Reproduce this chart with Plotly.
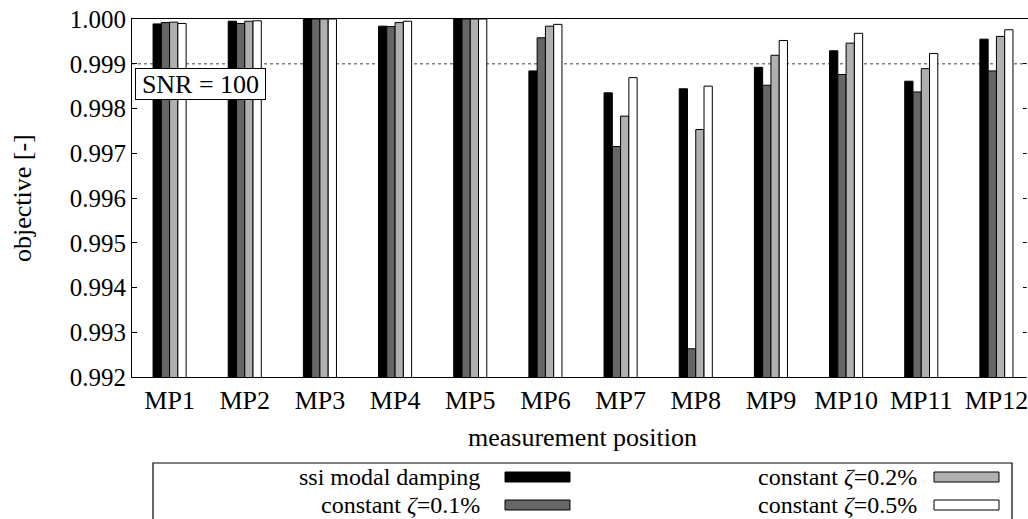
import plotly.graph_objects as go

# measurement positions and objective values per damping model
positions = [f"MP{i}" for i in range(1, 13)]
series_names = ["ssi modal damping", "constant <i>ζ</i>=0.1%",
                "constant <i>ζ</i>=0.2%", "constant <i>ζ</i>=0.5%"]
ssi_modal = [0.99989, 0.99995, 1.0, 0.99984, 1.0, 0.99884,
             0.99835, 0.99844, 0.99892, 0.99929, 0.99861, 0.99955]
zeta_01 = [0.99992, 0.99990, 1.0, 0.99983, 1.0, 0.99958,
           0.99715, 0.99263, 0.99852, 0.99876, 0.99837, 0.99884]
zeta_02 = [0.99993, 0.99995, 1.0, 0.99992, 1.0, 0.99984,
           0.99783, 0.99753, 0.99919, 0.99946, 0.99889, 0.99961]
zeta_05 = [0.99990, 0.99996, 1.0, 0.99995, 1.0, 0.99988,
           0.99869, 0.99850, 0.99952, 0.99968, 0.99923, 0.99976]
y_ticks = [0.992, 0.993, 0.994, 0.995, 0.996, 0.997, 0.998, 0.999, 1.000]
threshold = 0.999
snr_label = "SNR = 100"

series_values = [ssi_modal, zeta_01, zeta_02, zeta_05]
fills = ["#000000", "#666666", "#b0b0b0", "#ffffff"]

W, H = 1028, 519
L, R, T, B = 132, 0, 19, 142
PW, PH = W - L - R, H - T - B
FONT = "'Liberation Serif', 'Times New Roman', serif"
NUM_SIZE = 25
TXT_SIZE = 26
LEG_SIZE = 24


def px(x):
    return (x - L) / PW


def py(y):
    return (H - B - y) / PH


fig = go.Figure()
for name, vals, col in zip(series_names, series_values, fills):
    fig.add_trace(go.Bar(
        x=positions, y=vals, name=name, showlegend=False,
        marker=dict(color=col, line=dict(color="#000000", width=1)),
    ))

fig.update_layout(
    width=W, height=H, autosize=False,
    margin=dict(l=L, r=R, t=T, b=B, pad=0),
    paper_bgcolor="white", plot_bgcolor="white",
    barmode="group", bargap=0.56, bargroupgap=0,
    font=dict(family=FONT, size=TXT_SIZE, color="black"),
)
fig.update_xaxes(
    range=[-0.5, 11.42], showgrid=False, zeroline=False,
    showline=True, linecolor="black", linewidth=1.2, mirror=True,
    ticks="", tickfont=dict(family=FONT, size=TXT_SIZE, color="black"),
)
fig.update_yaxes(
    range=[0.992, 1.000], tickvals=y_ticks, tickformat=".3f",
    showgrid=False, zeroline=False,
    showline=True, linecolor="black", linewidth=1.2, mirror="ticks",
    ticks="inside", ticklen=5, tickwidth=1, tickcolor="black",
    tickfont=dict(family=FONT, size=NUM_SIZE, color="black"),
)

# dotted threshold line behind the bars
fig.add_shape(type="line", xref="paper", yref="y", x0=0, x1=1,
              y0=threshold, y1=threshold, layer="below",
              line=dict(color="#808080", width=1.5, dash="dot"))

# the frame continues past the right page edge: hide its right border
fig.add_shape(type="line", xref="paper", yref="paper", x0=1, x1=1,
              y0=-0.01, y1=0.995, layer="above",
              line=dict(color="white", width=2.5))

# SNR label box
fig.add_annotation(text=snr_label, xref="paper", yref="paper",
                   x=px(135), y=py(68), xanchor="left", yanchor="top",
                   width=127, height=28, align="center", valign="middle",
                   showarrow=False, bgcolor="white", bordercolor="black",
                   borderwidth=1, borderpad=1,
                   font=dict(family=FONT, size=TXT_SIZE, color="black"))

# axis titles
fig.add_annotation(text="objective [-]", xref="paper", yref="paper",
                   x=px(22), y=py(198), textangle=-90, showarrow=False,
                   xanchor="center", yanchor="middle",
                   font=dict(family=FONT, size=TXT_SIZE, color="black"))
fig.add_annotation(text="measurement position", xref="paper", yref="paper",
                   x=px(582), y=py(437), showarrow=False,
                   xanchor="center", yanchor="middle",
                   font=dict(family=FONT, size=TXT_SIZE, color="black"))

# legend box with right-aligned entries and swatches
fig.add_shape(type="rect", xref="paper", yref="paper",
              x0=px(153), x1=px(1012), y0=py(463), y1=py(560),
              line=dict(color="black", width=1.2), fillcolor="white",
              layer="above")
text_right = [481, 918]
swatch_x = [(505, 570), (934, 999)]
row_y = [477, 505]
for i, (name, col) in enumerate(zip(series_names, fills)):
    c, r = divmod(i, 2)
    fig.add_annotation(text=name, xref="paper", yref="paper",
                       x=px(text_right[c]), y=py(row_y[r]),
                       xanchor="right", yanchor="middle", showarrow=False,
                       borderpad=0,
                       font=dict(family=FONT, size=LEG_SIZE, color="black"))
    fig.add_shape(type="rect", xref="paper", yref="paper",
                  x0=px(swatch_x[c][0]), x1=px(swatch_x[c][1]),
                  y0=py(row_y[r] - 5), y1=py(row_y[r] + 5),
                  fillcolor=col, line=dict(color="black", width=1),
                  layer="above")

fig.write_html("out.html")
